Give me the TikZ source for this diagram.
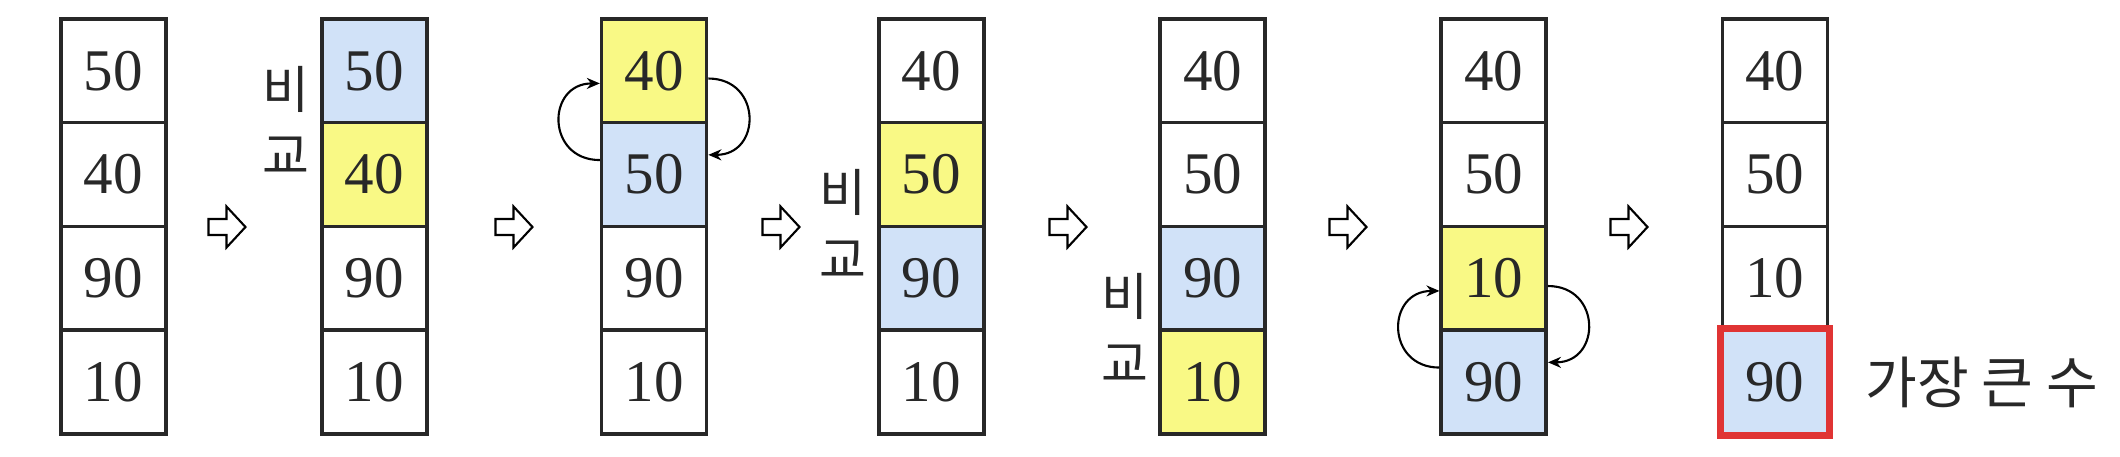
\documentclass[tikz,border=0pt]{standalone}
\usepackage{fontspec}
\setmainfont{Liberation Serif}
\newfontfamily\kr{Noto Sans CJK KR}
\usepackage{tikz}
\usetikzlibrary{arrows.meta, positioning}
\definecolor{cellblue}{RGB}{209,226,248}
\definecolor{cellyellow}{RGB}{249,249,133}
\definecolor{markred}{RGB}{224,52,52}
\definecolor{inkgray}{RGB}{40,40,40}

\begin{document}
\begin{tikzpicture}[
  cell/.style={rectangle, draw=inkgray, line width=1pt, minimum width=1.05cm,
               minimum height=1.0375cm, inner sep=0pt, text=inkgray,
               font=\fontsize{16.8}{20}\selectfont},
  nextstep/.style={draw=black, line width=0.6pt, line join=miter},
  swap/.style={-{Stealth[length=0.13cm, width=0.11cm]}, line width=0.6pt, looseness=1.8},
  cmp/.style={font=\kr\fontsize{14.5}{19}\selectfont, align=center, text=inkgray, inner sep=0pt}
]
\useasboundingbox (0,0) rectangle (21.2,-4.56);
% columns: number / x / value and fill of each row, top to bottom
\foreach \c/\x/\va/\fa/\vb/\fb/\vc/\fc/\vd/\fd in {
  1/1.133/50/white/40/white/90/white/10/white,
  2/3.743/50/cellblue/40/cellyellow/90/white/10/white,
  3/6.541/40/cellyellow/50/cellblue/90/white/10/white,
  4/9.313/40/white/50/cellyellow/90/cellblue/10/white,
  5/12.125/40/white/50/white/90/cellblue/10/cellyellow,
  6/14.937/40/white/50/white/10/cellyellow/90/cellblue,
  7/17.749/40/white/50/white/10/white/90/cellblue}{
  \node[cell, fill=\fa] (c\c-1) at (\x,-0.709) {\va};
  \node[cell, fill=\fb] (c\c-2) at (\x,-1.746) {\vb};
  \node[cell, fill=\fc] (c\c-3) at (\x,-2.784) {\vc};
  \node[cell, fill=\fd] (c\c-4) at (\x,-3.821) {\vd};
}
% compare labels
\node[cmp] (cmp2) at ([xshift=-0.34cm, yshift=0.04cm]c2-1.south west) {비\\교};
\node[cmp] (cmp4) at ([xshift=-0.34cm, yshift=0.04cm]c4-2.south west) {비\\교};
\node[cmp] (cmp5) at ([xshift=-0.33cm, yshift=0.04cm]c5-3.south west) {비\\교};
% step arrows
\foreach \g/\x in {1/2.27, 2/5.14, 3/7.81, 4/10.68, 5/13.48, 6/16.29}{
  \coordinate (go\g) at (\x,-2.27);
  \draw[nextstep] (go\g) ++(-0.185,0.08) -- ++(0.18,0) -- ++(0,0.125) -- ++(0.19,-0.205)
    -- ++(-0.19,-0.205) -- ++(0,0.125) -- ++(-0.18,0) -- cycle;
}
% swaps
\draw[swap] (c3-2.165) to[out=180, in=180] (c3-1.193);
\draw[swap] (c3-1.-8) to[out=0, in=0] (c3-2.20);
\draw[swap] (c6-4.165) to[out=180, in=180] (c6-3.193);
\draw[swap] (c6-3.-8) to[out=0, in=0] (c6-4.20);
% largest value
\draw[markred, line width=2pt] (c7-4.north west) rectangle (c7-4.south east);
\node[font=\kr\fontsize{16}{19}\selectfont, text=inkgray, inner sep=0pt, right=0.36cm of c7-4] (maxlabel) {가장 큰 수};
\end{tikzpicture}
\end{document}
